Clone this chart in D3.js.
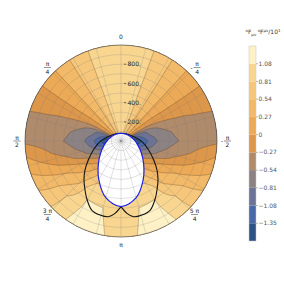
<!DOCTYPE html>
<html><head><meta charset="utf-8">
<script src="https://cdn.jsdelivr.net/npm/d3@7"></script>
<style>
body{margin:0;background:#fff}
svg{display:block}
text{font-family:"DejaVu Sans",sans-serif;-webkit-font-smoothing:antialiased}
</style>
</head><body>
<svg id="chart" width="284" height="284"></svg>
<script>
// ---- data ----
const thetaDeg = [0,15,30,45,60,70,80,90,100,110,120,135,150,165,180];   // angle from top, symmetric
const radii    = [0,100,200,300,400,500,600,800,1000];
const fieldRows = [
  [ 1.00, 1.00, 1.00, 1.00, 1.00, 1.00, 1.00, 1.00, 1.00],
  [ 0.92, 0.92, 0.92, 0.92, 0.92, 0.92, 0.92, 0.92, 0.92],
  [ 0.60, 0.60, 0.60, 0.60, 0.60, 0.60, 0.60, 0.60, 0.60],
  [ 0.22, 0.22, 0.22, 0.22, 0.22, 0.22, 0.22, 0.22, 0.22],
  [-0.25,-0.25,-0.25,-0.22,-0.18,-0.14,-0.12,-0.11,-0.11],
  [-1.10,-1.05,-0.95,-0.75,-0.54,-0.42,-0.34,-0.27,-0.25],
  [-1.60,-1.50,-1.15,-0.84,-0.70,-0.58,-0.47,-0.38,-0.35],
  [-1.80,-1.70,-1.42,-1.00,-0.76,-0.63,-0.54,-0.40,-0.33],
  [-1.70,-1.60,-1.30,-0.88,-0.65,-0.52,-0.42,-0.20, 0.01],
  [-1.50,-1.40,-1.00,-0.70,-0.50,-0.32,-0.15, 0.08, 0.27],
  [-1.00,-0.95,-0.75,-0.45,-0.15, 0.05, 0.20, 0.38, 0.52],
  [ 0.00, 0.00, 0.00,-0.05, 0.20, 0.38, 0.50, 0.80, 0.85],
  [ 0.40, 0.40, 0.40, 0.40, 0.60, 0.78, 1.06, 1.10, 1.20],
  [ 0.90, 0.90, 0.90, 0.90, 0.90, 0.95, 1.05, 1.10, 1.15],
  [ 0.92, 0.92, 0.92, 0.92, 0.92, 0.92, 0.92, 0.92, 0.95]
];
const levels = [-1.62,-1.35,-1.08,-0.81,-0.54,-0.27,0,0.27,0.54,0.81,1.08,1.35];
const bandColors = ["#2c5286","#4a67a8","#6b7396","#8c8283","#b08b6b","#dd974b",
                    "#ecaa56","#f2b968","#f6c77b","#f9d690","#fdf1c5"];
const colorbarTicks = [1.08,0.81,0.54,0.27,0,-0.27,-0.54,-0.81,-1.08,-1.35];
const radialTicks = [200,400,600,800];
const gridCircles = [100,200,300,400,500,600,700,800,900];
const gridSpokes = d3.range(0,360,15);
const horizonTheta = [0,15,30,45,60,75,90,105,120,135,150,165,180];
const horizonR     = [80,81,85,93,106,121,147,185,244,333,463,611,684];
const curveTheta = [0,40.6,71.3,91.9,108,120.2,128.9,136.5,143.7,149.1,157,164.2,170.5,175.3,180];
const curveR     = [80,96,140,219,303,394,482,560,633,696,781,801,800,756,684];
const angleLabels = [
  {t:0,   sign:"",  num:"0",   den:null},
  {t:45,  sign:"",  num:"π",   den:"4"},
  {t:-45, sign:"-", num:"π",   den:"4"},
  {t:90,  sign:"",  num:"π",   den:"2"},
  {t:-90, sign:"-", num:"π",   den:"2"},
  {t:135, sign:"",  num:"3 π", den:"4"},
  {t:-135,sign:"",  num:"5 π", den:"4"},
  {t:180, sign:"",  num:"π",   den:null}
];

// ---- layout ----
const cx = 121, cy = 141, R = 96;
const ink = "#262626";
const svg = d3.select("#chart");
const rScale = d3.scaleLinear().domain([0,1000]).range([0,R]);
const tIdx = d3.scaleLinear().domain(thetaDeg).range(d3.range(thetaDeg.length)).clamp(true);
const rIdx = d3.scaleLinear().domain(radii).range(d3.range(radii.length)).clamp(true);

function fieldAt(x, y){
  const dx = x - cx, dy = y - cy;
  const rr = Math.min(1000, rScale.invert(Math.hypot(dx, dy)));
  const th = Math.abs(Math.atan2(-dx, -dy)) * 180 / Math.PI;
  const fi = tIdx(th), fj = rIdx(rr);
  const i0 = Math.floor(fi), j0 = Math.floor(fj);
  const i1 = Math.min(i0+1, thetaDeg.length-1), j1 = Math.min(j0+1, radii.length-1);
  const a = fi - i0, b = fj - j0;
  const v00 = fieldRows[i0][j0], v01 = fieldRows[i0][j1], v10 = fieldRows[i1][j0], v11 = fieldRows[i1][j1];
  return (1-a)*((1-b)*v00 + b*v01) + a*((1-b)*v10 + b*v11);
}

const step = 0.5;
const x0 = cx - R - 3, y0 = cy - R - 3;
const n = Math.ceil((2*R + 6)/step) + 1;
const values = new Array(n*n);
for (let j=0;j<n;j++) for (let i=0;i<n;i++) values[j*n+i] = fieldAt(x0+i*step, y0+j*step);

const contours = d3.contours().size([n,n]).thresholds(levels.slice(1,11))(values);
const path = d3.geoPath(d3.geoIdentity().scale(step).translate([x0-0.5*step, y0-0.5*step]));

const defs = svg.append("defs");
defs.append("clipPath").attr("id","disk").append("circle").attr("cx",cx).attr("cy",cy).attr("r",R);

const plot = svg.append("g").attr("clip-path","url(#disk)");
plot.append("circle").attr("cx",cx).attr("cy",cy).attr("r",R).attr("fill",bandColors[0]);
plot.selectAll("path.band").data(contours).join("path").attr("class","band")
  .attr("d",path).attr("fill",d => bandColors[levels.indexOf(d.value)]).attr("stroke","none");
plot.selectAll("path.cline").data(contours).join("path").attr("class","cline")
  .attr("d",path).attr("fill","none").attr("stroke","#3b2a1c").attr("stroke-opacity",0.45).attr("stroke-width",0.6);

// horizon (white region)
const polar = g => d3.lineRadial().angle(d => -d[0]*Math.PI/180).radius(d => rScale(d[1])).curve(g);
const hLeft = horizonTheta.map((t,i) => [t, horizonR[i]]);
const hRight = horizonTheta.slice(1,-1).map((t,i) => [-t, horizonR[i+1]]).reverse();
const horizonPts = hLeft.concat(hRight);
const center = svg.append("g").attr("transform",`translate(${cx},${cy})`);
center.append("path").attr("d", polar(d3.curveCatmullRomClosed)(horizonPts)).attr("fill","#fff");

// grid
const grid = svg.append("g").attr("clip-path","url(#disk)");
grid.selectAll("circle").data(gridCircles).join("circle")
  .attr("cx",cx).attr("cy",cy).attr("r",d => rScale(d))
  .attr("fill","none").attr("stroke","#777").attr("stroke-opacity",0.45).attr("stroke-width",0.5);
grid.selectAll("line").data(gridSpokes).join("line")
  .attr("x1",cx).attr("y1",cy)
  .attr("x2",d => cx + rScale(1000)*Math.sin(d*Math.PI/180))
  .attr("y2",d => cy - rScale(1000)*Math.cos(d*Math.PI/180))
  .attr("stroke","#777").attr("stroke-opacity",0.45).attr("stroke-width",0.5);

// black curve
const cLeft = curveTheta.map((t,i) => [t, curveR[i]]);
const cRight = curveTheta.map((t,i) => [-t, curveR[i]]);
const cg = svg.append("g").attr("transform",`translate(${cx},${cy})`);
[cLeft, cRight].forEach(pts => cg.append("path").attr("d", polar(d3.curveCatmullRom)(pts))
  .attr("fill","none").attr("stroke","#151515").attr("stroke-width",1.1));
cg.append("path").attr("d", polar(d3.curveCatmullRomClosed)(horizonPts))
  .attr("fill","none").attr("stroke","#1f1fe6").attr("stroke-width",1.2);

// outer frame
svg.append("circle").attr("cx",cx).attr("cy",cy).attr("r",R).attr("fill","none")
  .attr("stroke","#4a4a4a").attr("stroke-width",0.7);

// radial ticks
const rt = svg.append("g");
rt.selectAll("line").data(radialTicks).join("line")
  .attr("x1",cx+3).attr("x2",cx+5).attr("y1",d => cy - rScale(d)).attr("y2",d => cy - rScale(d))
  .attr("stroke",ink).attr("stroke-width",0.6);
rt.selectAll("text").data(radialTicks).join("text")
  .attr("x",cx+6.5).attr("y",d => cy - rScale(d)).attr("dy","0.35em")
  .attr("font-size",6).attr("fill",ink).text(d => d + ".");

// angular labels
const L = 104;
angleLabels.forEach(l => {
  const x = cx - L*Math.sin(l.t*Math.PI/180), y = cy - L*Math.cos(l.t*Math.PI/180);
  const g = svg.append("g");
  const txt = (tx, ty, s) => g.append("text").attr("x",tx).attr("y",ty).attr("text-anchor","middle")
    .attr("font-size",6).attr("fill",ink).text(s);
  if (!l.den){ txt(x, y + 2.1, l.num); return; }
  const fx = l.sign ? x + 2.5 : x;
  txt(fx, y - 1.2, l.num);
  g.append("line").attr("x1",fx-3.5).attr("x2",fx+3.5).attr("y1",y).attr("y2",y).attr("stroke",ink).attr("stroke-width",0.5);
  txt(fx, y + 6.2, l.den);
  if (l.sign) txt(fx - 5.5, y + 2.1, "-");
});

// colorbar
const cbX = 249, cbW = 7;
const cbY = d3.scaleLinear().domain([levels[0], levels[levels.length-1]]).range([241,46]);
const cb = svg.append("g");
cb.selectAll("rect").data(bandColors).join("rect")
  .attr("x",cbX).attr("width",cbW)
  .attr("y",(d,i) => cbY(levels[i+1])).attr("height",(d,i) => cbY(levels[i]) - cbY(levels[i+1]))
  .attr("fill",d => d);
cb.append("rect").attr("x",cbX).attr("y",46).attr("width",cbW).attr("height",195)
  .attr("fill","none").attr("stroke","#c8c8c8").attr("stroke-width",0.5);
const fmt = v => v === 0 ? "0" : d3.format(".2f")(v);
cb.selectAll("line").data(colorbarTicks).join("line")
  .attr("x1",cbX+cbW).attr("x2",cbX+cbW+2).attr("y1",d => cbY(d)).attr("y2",d => cbY(d))
  .attr("stroke","#777").attr("stroke-width",0.5);
cb.selectAll("text.tick").data(colorbarTicks).join("text").attr("class","tick")
  .attr("x",cbX+cbW+2.5).attr("y",d => cbY(d)).attr("dy","0.35em")
  .attr("font-size",6).attr("fill","#555").text(fmt);

const title = svg.append("text").attr("x",263).attr("y",34).attr("text-anchor","middle")
  .attr("font-size",6).attr("fill","#333");
title.append("tspan").attr("font-size",4).attr("dy",-2).text("o");
title.append("tspan").attr("dy",2).text("F");
title.append("tspan").attr("font-size",4).attr("dy",1.5).text("μν");
title.append("tspan").attr("font-size",4).attr("dy",-3.5).attr("dx",1.5).text("o");
title.append("tspan").attr("dy",2).text("F");
title.append("tspan").attr("font-size",4).attr("dy",-2).text("μν");
title.append("tspan").attr("dy",2).text("/10");
title.append("tspan").attr("font-size",4).attr("dy",-2).text("1");
</script>
</body></html>
